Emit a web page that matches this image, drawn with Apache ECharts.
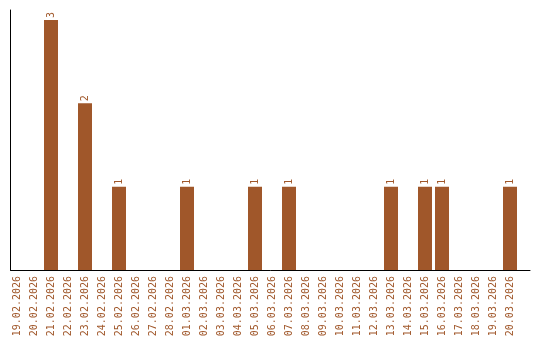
<!DOCTYPE html>
<html><head><meta charset="utf-8">
<script src="https://cdn.jsdelivr.net/npm/echarts@6/dist/echarts.min.js"></script>
<style>html,body{margin:0;padding:0;background:#fff}#c{width:540px;height:340px}</style>
</head><body><div id="c"></div>
<script>
const categories = ["19.02.2026","20.02.2026","21.02.2026","22.02.2026","23.02.2026","24.02.2026","25.02.2026","26.02.2026","27.02.2026","28.02.2026","01.03.2026","02.03.2026","03.03.2026","04.03.2026","05.03.2026","06.03.2026","07.03.2026","08.03.2026","09.03.2026","10.03.2026","11.03.2026","12.03.2026","13.03.2026","14.03.2026","15.03.2026","16.03.2026","17.03.2026","18.03.2026","19.03.2026","20.03.2026"];
const values = [0,0,3,0,2,0,1,0,0,0,1,0,0,0,1,0,1,0,0,0,0,0,1,0,1,1,0,0,0,1];
const color = '#a0572a';
const chart = echarts.init(document.getElementById('c'), null, {renderer:'canvas'});
chart.setOption({
  animation:false,
  grid:[
    {left:8.5, width:510, top:10, bottom:70},
    {left:10.5, right:10, top:10, bottom:70}
  ],
  xAxis:[
    {type:'category', data:categories, gridIndex:0,
     axisLine:{show:false}, axisTick:{show:false},
     axisLabel:{interval:0, rotate:90, color:color, fontFamily:'DejaVu Sans Mono', fontSize:10, margin:6}},
    {type:'value', gridIndex:1, min:0, max:1, axisLine:{show:true, onZero:false, lineStyle:{color:'#000', width:1}},
     axisTick:{show:false}, axisLabel:{show:false}, splitLine:{show:false}}
  ],
  yAxis:[
    {type:'value', gridIndex:0, min:0, max:3.12, axisLine:{show:false}, axisTick:{show:false}, axisLabel:{show:false}, splitLine:{show:false}},
    {type:'value', gridIndex:1, min:0, max:1, axisLine:{show:true, lineStyle:{color:'#000', width:1}},
     axisTick:{show:false}, axisLabel:{show:false}, splitLine:{show:false}}
  ],
  series:[{
    type:'bar', data:values.map(v=>v===0?null:v), barWidth:14, xAxisIndex:0, yAxisIndex:0,
    itemStyle:{color:'#a0572a'},
    label:{show:true, position:'top', rotate:90, align:'left', verticalAlign:'middle', distance:2,
      color:color, fontFamily:'DejaVu Sans Mono', fontSize:10}
  }]
});
</script></body></html>
